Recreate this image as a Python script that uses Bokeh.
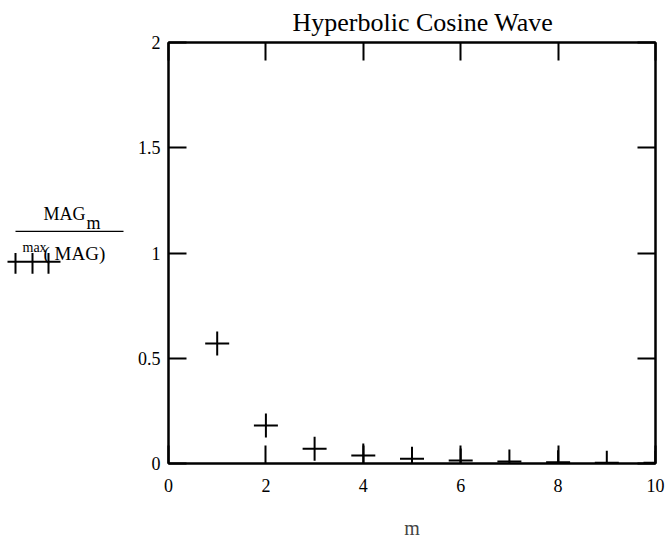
from bokeh.plotting import figure
from bokeh.models import Range1d, LinearAxis, FixedTicker, Title
from bokeh.layouts import row
from bokeh.core.properties import value
from bokeh.embed import file_html
from bokeh.resources import INLINE

# ---- data ----
m_values = [1, 2, 3, 4, 5, 6, 7, 8, 9, 10]
mag_norm = [0.57, 0.18, 0.07, 0.038, 0.022, 0.014, 0.009, 0.006, 0.004, 0.003]
x_ticks = [0, 2, 4, 6, 8, 10]
y_ticks = [0, 0.5, 1, 1.5, 2]
y_tick_labels = ["0", "0.5", "1", "1.5", "2"]
title_text = "Hyperbolic Cosine Wave"
x_label = "m"

W, H = 667, 541
LW = 125                     # width of the left label panel
L, R, T, B = 168, 655, 42, 470
FONT = "Liberation Serif"

# ---------------- main plot ----------------
p = figure(width=W - LW, height=H, output_backend="svg", toolbar_location=None,
           x_range=Range1d(0, 10), y_range=Range1d(0, 2),
           min_border_left=L - LW, min_border_right=W - R,
           min_border_top=T, min_border_bottom=H - B,
           x_axis_location=None, y_axis_location=None)
p.grid.visible = False
p.outline_line_color = "black"
p.outline_line_width = 2
p.background_fill_color = "white"
p.border_fill_color = "white"

def make_axis(ticks, labels=None):
    ax = LinearAxis(ticker=FixedTicker(ticks=ticks))
    ax.major_tick_in = 18
    ax.major_tick_out = 0
    ax.minor_tick_line_color = None
    ax.major_tick_line_width = 2
    ax.major_tick_line_color = "black"
    ax.axis_line_width = 2
    ax.axis_line_color = "black"
    ax.major_label_text_font = FONT
    ax.major_label_text_font_size = "18px"
    ax.major_label_text_color = "black"
    if labels is None:
        ax.major_label_overrides = {t: "" for t in ticks}
        ax.major_label_standoff = 0
    else:
        ax.major_label_overrides = dict(zip(ticks, labels))
    return ax

left = make_axis(y_ticks, y_tick_labels)
left.major_label_standoff = 8
p.add_layout(left, "left")

p.add_layout(make_axis(y_ticks), "right")

bottom = make_axis(x_ticks, [str(t) for t in x_ticks])
bottom.major_label_standoff = 15
bottom.axis_label = x_label
bottom.axis_label_text_font = FONT
bottom.axis_label_text_font_style = "normal"
bottom.axis_label_text_font_size = "20px"
bottom.axis_label_standoff = 22
p.add_layout(bottom, "below")

p.add_layout(make_axis(x_ticks), "above")

p.add_layout(Title(text=title_text, align="left", offset=292 - L,
                   text_font=FONT, text_font_size="26px",
                   text_font_style="normal", text_color="black",
                   standoff=11), "above")

p.scatter(m_values, mag_norm, marker="cross", size=24, line_width=2,
          line_color="black")

# ---------------- left label panel (pixel coordinates, frame aligned) ----------------
q = figure(width=LW, height=H, output_backend="svg", toolbar_location=None,
           x_range=Range1d(0, LW), y_range=Range1d(B, T),
           min_border_left=0, min_border_right=0,
           min_border_top=T, min_border_bottom=H - B,
           x_axis_location=None, y_axis_location=None)
q.grid.visible = False
q.outline_line_color = None
q.background_fill_color = "white"
q.border_fill_color = "white"

q.text(x=[85], y=[216], text=["MAG"], text_font=value(FONT),
       text_font_size="18px", text_align="right", text_baseline="alphabetic",
       text_color="black")
q.text(x=[86], y=[226], text=["m"], text_font=value(FONT),
       text_font_size="18px", text_align="left", text_baseline="alphabetic",
       text_color="black")
q.segment(x0=[15], y0=[234], x1=[123], y1=[234], line_color="black",
          line_width=1.3)
q.text(x=[22], y=[250], text=["max"], text_font=value(FONT),
       text_font_size="14px", text_align="left", text_baseline="alphabetic",
       text_color="black")
q.text(x=[43], y=[256], text=["( MAG)"], text_font=value(FONT),
       text_font_size="19px", text_align="left", text_baseline="alphabetic",
       text_color="black")

# trace symbol under the label
q.segment(x0=[7], y0=[265], x1=[60], y1=[265], line_color="black", line_width=2)
q.segment(x0=[15, 32, 48], y0=[256, 256, 256], x1=[15, 32, 48],
          y1=[277, 277, 277], line_color="black", line_width=2)

layout = row(q, p, spacing=0)
open("out.html", "w").write(file_html(layout, INLINE))
